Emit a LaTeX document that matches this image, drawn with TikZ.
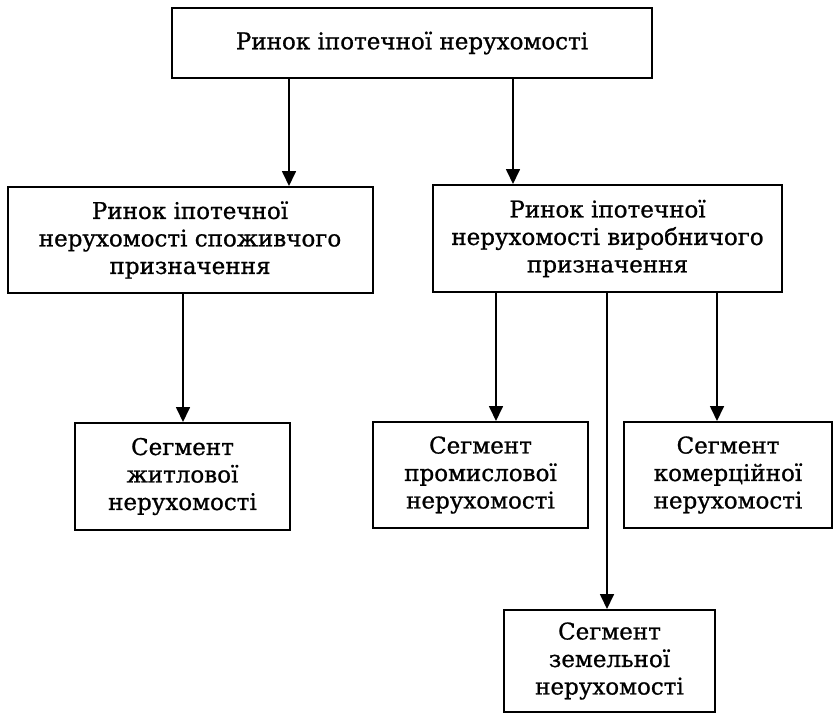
\documentclass[tikz,border=0pt]{standalone}
\usepackage{fontspec}
\setmainfont{DejaVu Serif}[FakeBold=0.9]
\usetikzlibrary{arrows.meta}
\begin{document}
\begin{tikzpicture}[x=1pt,y=-1pt,
  box/.style={draw, line width=2pt, align=center, inner sep=0pt,
    font=\fontsize{23}{27.5}\selectfont},
  arr/.style={line width=1.7pt, -{Triangle[width=14pt,length=15pt]}}]
\useasboundingbox (0,0) rectangle (835,721);

% boxes
\node[box, minimum width=480pt, minimum height=70pt] (top) at (412,43)
  {Ринок іпотечної нерухомості};
\node[box, minimum width=365pt, minimum height=106pt] (lm) at (190,240)
  {Ринок іпотечної\\нерухомості споживчого\\призначення};
\node[box, minimum width=349pt, minimum height=107pt] (rm) at (607.5,238.5)
  {Ринок іпотечної\\нерухомості виробничого\\призначення};
\node[box, minimum width=215pt, minimum height=107pt] (bl) at (182.5,476.5)
  {Сегмент\\житлової\\нерухомості};
\node[box, minimum width=215pt, minimum height=106pt] (bp) at (480.5,475)
  {Сегмент\\промислової\\нерухомості};
\node[box, minimum width=208pt, minimum height=106pt] (bk) at (728,475)
  {Сегмент\\комерційної\\нерухомості};
\node[box, minimum width=211pt, minimum height=102pt] (bz) at (609.5,661)
  {Сегмент\\земельної\\нерухомості};

% connector columns
\coordinate (c1) at (289,0);
\coordinate (c2) at (513,0);
\coordinate (c3) at (183,0);
\coordinate (c4) at (496,0);
\coordinate (c5) at (607,0);
\coordinate (c6) at (717,0);

% connectors
\draw[arr] (top.south -| c1) -- (lm.north -| c1);
\draw[arr] (top.south -| c2) -- (rm.north -| c2);
\draw[arr] (lm.south -| c3) -- (bl.north -| c3);
\draw[arr] (rm.south -| c4) -- (bp.north -| c4);
\draw[arr] (rm.south -| c5) -- (bz.north -| c5);
\draw[arr] (rm.south -| c6) -- (bk.north -| c6);
\end{tikzpicture}
\end{document}
